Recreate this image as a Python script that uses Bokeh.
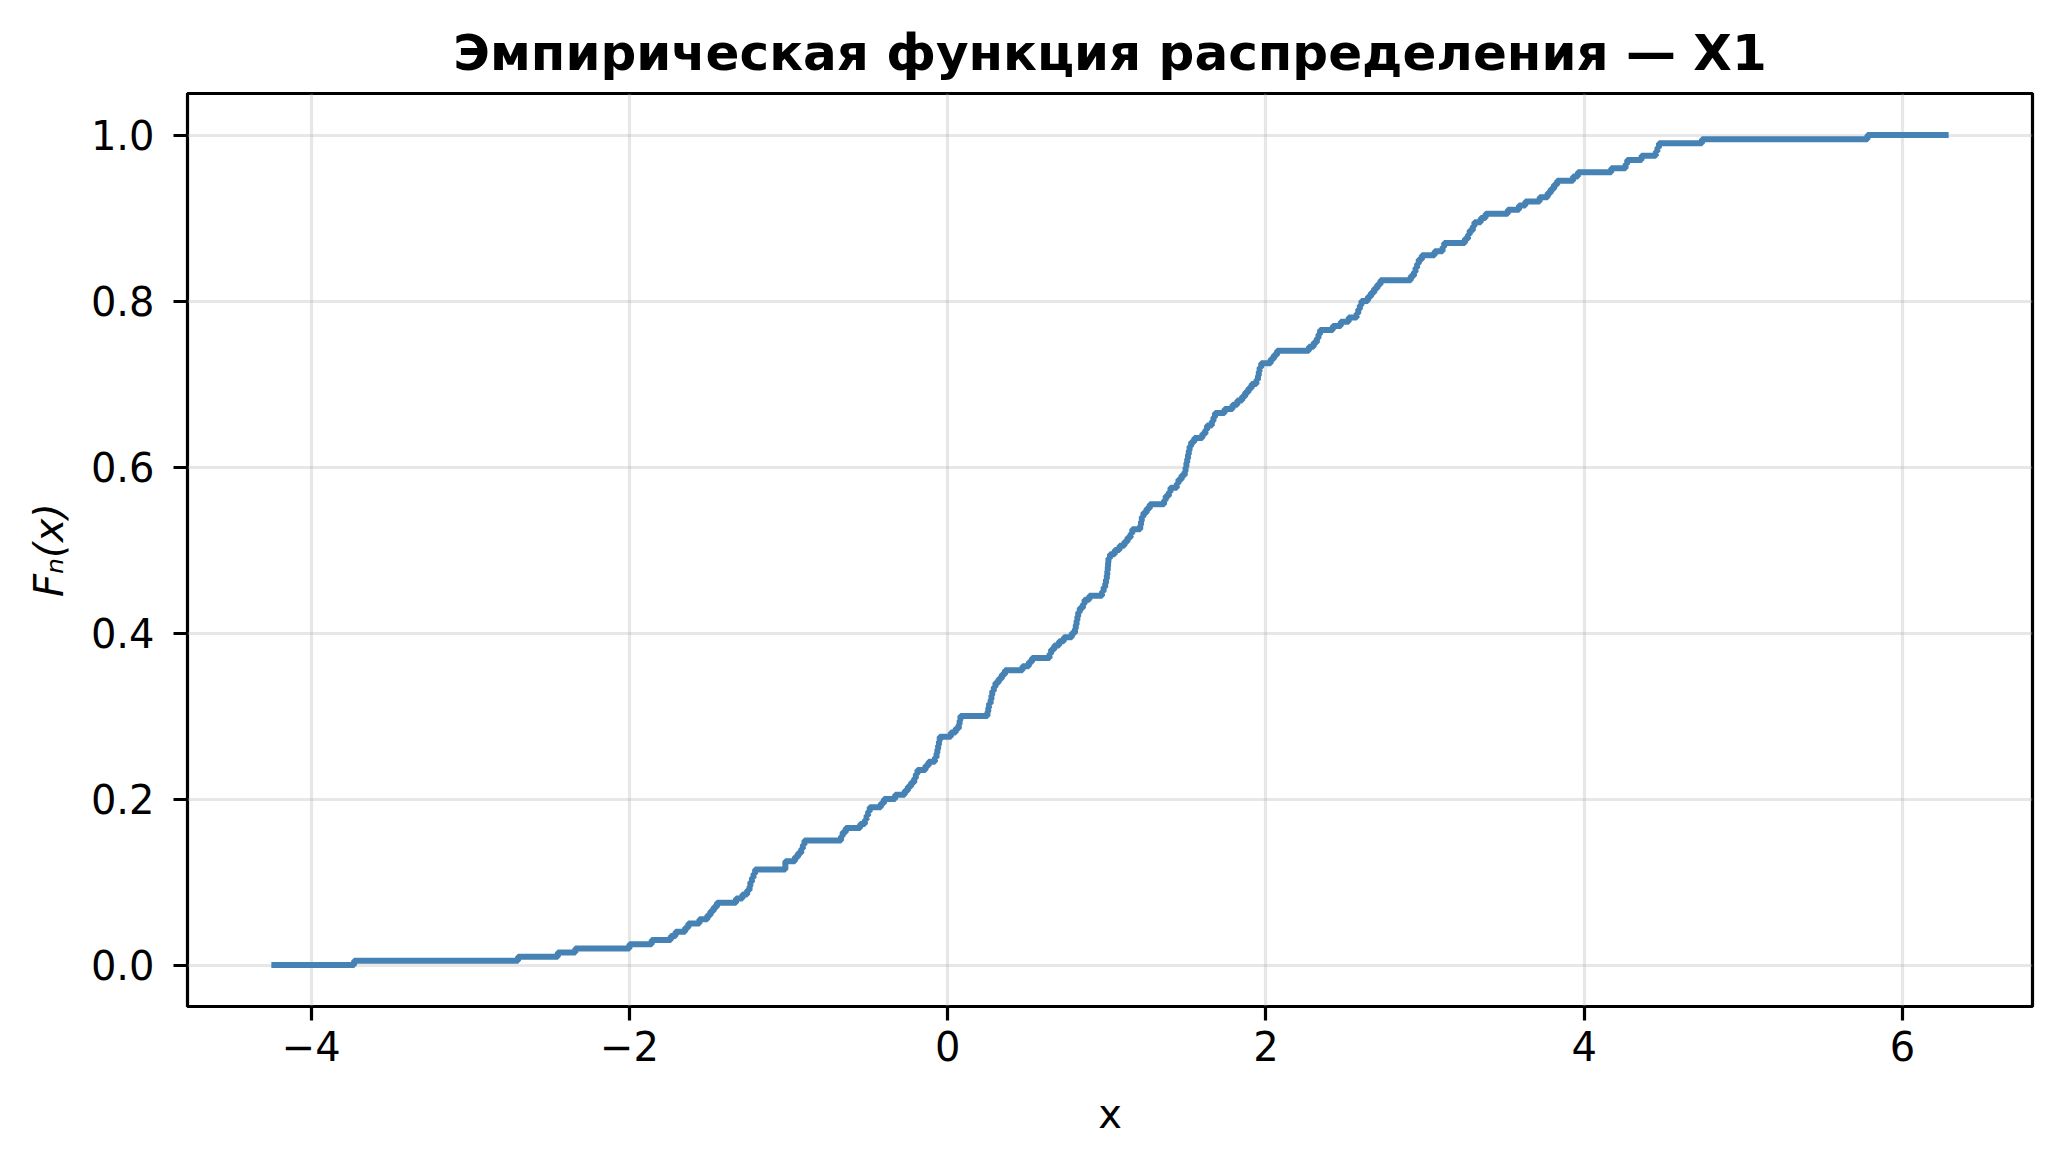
from bokeh.plotting import figure
from bokeh.models import FixedTicker, Range1d, ColumnDataSource
from bokeh.embed import file_html
from bokeh.resources import INLINE

jump_x = [-4.25, -3.73, -2.70, -2.45, -2.34, -2.00, -1.86, -1.74, -1.71, -1.65, -1.63,
          -1.56, -1.51, -1.49, -1.47, -1.45, -1.33, -1.29, -1.26, -1.245, -1.24, -1.23,
          -1.22, -1.21, -1.02, -0.96, -0.94, -0.92, -0.91, -0.90, -0.67, -0.66, -0.64,
          -0.55, -0.52, -0.51, -0.50, -0.49, -0.42, -0.40, -0.33, -0.27, -0.25, -0.23,
          -0.21, -0.20, -0.19, -0.14, -0.12, -0.08, -0.07, -0.065, -0.06, -0.055, -0.05,
          0.02, 0.05, 0.07, 0.075, 0.08, 0.25, 0.255, 0.26, 0.27, 0.275, 0.28, 0.29, 0.30,
          0.32, 0.34, 0.36, 0.47, 0.51, 0.53, 0.64, 0.65, 0.67, 0.70, 0.73, 0.78, 0.80,
          0.805, 0.81, 0.815, 0.82, 0.83, 0.85, 0.86, 0.89, 0.97, 0.98, 0.99, 0.995, 1.00,
          1.003, 1.006, 1.008, 1.01, 1.02, 1.05, 1.08, 1.11, 1.13, 1.15, 1.16, 1.21, 1.215,
          1.22, 1.23, 1.25, 1.27, 1.36, 1.37, 1.39, 1.40, 1.44, 1.45, 1.47, 1.49, 1.495,
          1.50, 1.505, 1.51, 1.515, 1.52, 1.53, 1.55, 1.60, 1.62, 1.63, 1.66, 1.67, 1.68,
          1.74, 1.79, 1.82, 1.85, 1.87, 1.89, 1.91, 1.94, 1.95, 1.955, 1.96, 1.97, 2.03,
          2.05, 2.07, 2.27, 2.30, 2.32, 2.33, 2.34, 2.42, 2.47, 2.52, 2.57, 2.58, 2.59,
          2.60, 2.64, 2.66, 2.68, 2.70, 2.72, 2.91, 2.93, 2.94, 2.95, 2.96, 2.98, 3.06,
          3.11, 3.12, 3.25, 3.27, 3.28, 3.30, 3.31, 3.35, 3.38, 3.52, 3.59, 3.63, 3.72,
          3.77, 3.79, 3.81, 3.83, 3.93, 3.96, 4.17, 4.26, 4.27, 4.36, 4.45, 4.46, 4.47,
          4.74, 5.78, 6.29]
level_F = [0.000, 0.005, 0.010, 0.015, 0.020, 0.025, 0.030, 0.035, 0.040, 0.045, 0.050,
           0.055, 0.060, 0.065, 0.070, 0.075, 0.080, 0.085, 0.090, 0.095, 0.100, 0.105,
           0.110, 0.115, 0.125, 0.130, 0.135, 0.140, 0.145, 0.150, 0.155, 0.160, 0.165,
           0.170, 0.175, 0.180, 0.185, 0.190, 0.195, 0.200, 0.205, 0.210, 0.215, 0.220,
           0.225, 0.230, 0.235, 0.240, 0.245, 0.250, 0.255, 0.260, 0.265, 0.270, 0.275,
           0.280, 0.285, 0.290, 0.295, 0.300, 0.305, 0.310, 0.315, 0.320, 0.325, 0.330, 0.335, 0.340,
           0.345, 0.350, 0.355, 0.360, 0.365, 0.370, 0.375, 0.380, 0.385, 0.390, 0.395, 0.400, 0.405,
           0.410, 0.415, 0.420, 0.425, 0.430, 0.435, 0.440, 0.445, 0.450, 0.455, 0.460, 0.465, 0.470,
           0.475, 0.480, 0.485, 0.490, 0.495, 0.500, 0.505, 0.510, 0.515, 0.520, 0.525, 0.530, 0.535,
           0.540, 0.545, 0.550, 0.555, 0.560, 0.565, 0.570, 0.575, 0.580, 0.585, 0.590, 0.595, 0.600,
           0.605, 0.610, 0.615, 0.620, 0.625, 0.630, 0.635, 0.640, 0.645, 0.650, 0.655, 0.660, 0.665,
           0.670, 0.675, 0.680, 0.685, 0.690, 0.695, 0.700, 0.705, 0.710, 0.715, 0.720, 0.725, 0.730,
           0.735, 0.740, 0.745, 0.750, 0.755, 0.760, 0.765, 0.770, 0.775, 0.780, 0.785, 0.790, 0.795,
           0.800, 0.805, 0.810, 0.815, 0.820, 0.825, 0.830, 0.835, 0.840, 0.845, 0.850, 0.855, 0.860,
           0.865, 0.870, 0.875, 0.880, 0.885, 0.890, 0.895, 0.900, 0.905, 0.910, 0.915, 0.920, 0.925,
           0.930, 0.935, 0.940, 0.945, 0.950, 0.955, 0.960, 0.965, 0.970, 0.975, 0.980, 0.985, 0.990,
           0.995, 1.000, 1.000]

x_ticks = [-4, -2, 0, 2, 4, 6]
x_tick_labels = ["\u22124", "\u22122", "0", "2", "4", "6"]
y_ticks = [0.0, 0.2, 0.4, 0.6, 0.8, 1.0]
y_tick_labels = ["0.0", "0.2", "0.4", "0.6", "0.8", "1.0"]

title_text = "Эмпирическая функция распределения — X1"

FONT = "DejaVu Sans"

p = figure(width=2046, height=1150, output_backend="svg", toolbar_location=None,
           x_range=Range1d(-4.777, 6.817), y_range=Range1d(-0.05, 1.05),
           min_border_left=187, min_border_right=14, min_border_top=93, min_border_bottom=144)

src = ColumnDataSource(dict(x=jump_x, y=level_F))
p.step("x", "y", source=src, mode="after", line_color="#4682b4", line_width=6)

p.title.text = title_text
p.title.align = "center"
p.title.text_font = FONT
p.title.text_font_style = "bold"
p.title.text_font_size = "50px"
p.title.text_color = "black"
p.title.standoff = 23

p.outline_line_color = "black"
p.outline_line_width = 3.2
p.outline_line_alpha = 1.0

for ax in (p.xaxis[0], p.yaxis[0]):
    ax.axis_line_color = None
    ax.major_tick_line_color = "black"
    ax.major_tick_line_width = 3.2
    ax.major_tick_out = 14
    ax.major_tick_in = 0
    ax.minor_tick_line_color = None
    ax.major_label_text_font = FONT
    ax.major_label_text_font_size = "40px"
    ax.major_label_text_color = "black"
    ax.axis_label_text_font = FONT
    ax.axis_label_text_font_size = "40px"
    ax.axis_label_text_color = "black"

p.xaxis[0].ticker = FixedTicker(ticks=x_ticks)
p.xaxis[0].major_label_overrides = {t: l for t, l in zip(x_ticks, x_tick_labels)}
p.xaxis[0].major_label_standoff = 10
p.xaxis[0].axis_label = "x"
p.xaxis[0].axis_label_standoff = 27
p.xaxis[0].axis_label_text_font_style = "normal"

p.yaxis[0].ticker = FixedTicker(ticks=y_ticks)
p.yaxis[0].major_label_overrides = {t: l for t, l in zip(y_ticks, y_tick_labels)}
p.yaxis[0].major_label_standoff = 19
p.yaxis[0].axis_label = "Fₙ(x)"
p.yaxis[0].axis_label_text_font_style = "italic"
p.yaxis[0].axis_label_standoff = 16

p.xgrid.ticker = FixedTicker(ticks=x_ticks)
p.ygrid.ticker = FixedTicker(ticks=y_ticks)
for g in (p.xgrid[0], p.ygrid[0]):
    g.grid_line_color = "#b0b0b0"
    g.grid_line_alpha = 0.3
    g.grid_line_width = 3.2

p.background_fill_color = "white"
p.border_fill_color = "white"

open("out.html", "w").write(file_html(p, INLINE))
